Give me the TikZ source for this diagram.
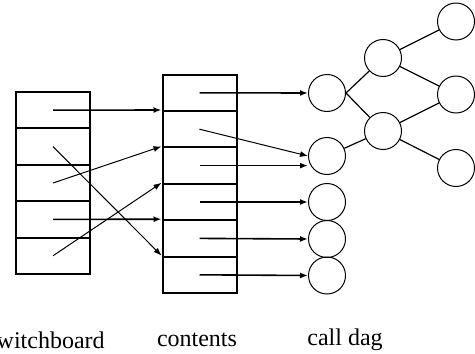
\documentclass[tikz,border=0pt]{standalone}
\usepackage{fontspec}
\setmainfont{Liberation Serif}
\usetikzlibrary{arrows.meta,positioning}

\begin{document}
\begin{tikzpicture}[
  x=0.5pt, y=-0.5pt,
  slot/.style={draw, line width=1pt, minimum width=37pt,
               minimum height=18.2pt, inner sep=0pt},
  call/.style={draw, circle, line width=0.5pt, minimum size=18.5pt,
               inner sep=0pt},
  ptr/.style={-{Latex[length=4pt,width=3pt]}, line width=0.8pt},
  xptr/.style={-{Latex[length=4pt,width=3pt]}, line width=0.5pt},
  link/.style={line width=0.6pt},
  lbl/.style={font=\fontsize{12}{14}\selectfont}
]
\clip (0,0) rectangle (475,353);
\useasboundingbox (0,0) rectangle (475,353);
% switchboard
\node[slot] (sw1) at (53,110.2) {};
\node[slot] (sw2) at (53,146.6) {};
\node[slot] (sw3) at (53,183.0) {};
\node[slot] (sw4) at (53,219.4) {};
\node[slot] (sw5) at (53,255.8) {};
% contents
\node[slot] (ct1) at (199.5,92.8) {};
\node[slot] (ct2) at (199.5,129.2) {};
\node[slot] (ct3) at (199.5,165.6) {};
\node[slot] (ct4) at (199.5,202.0) {};
\node[slot] (ct5) at (199.5,238.4) {};
\node[slot] (ct6) at (199.5,274.8) {};
% call dag
\node[call] (c1) at (327,93) {};
\node[call] (c2) at (327,156) {};
\node[call] (c3) at (327,202) {};
\node[call] (c4) at (327,239) {};
\node[call] (c5) at (327,275.5) {};
\node[call] (d1) at (383,58) {};
\node[call] (d2) at (383,131) {};
\node[call] (e1) at (456,21.5) {};
\node[call] (e2) at (456,94.5) {};
\node[call] (e3) at (456,168) {};
% switchboard -> contents
\draw[ptr] (sw1.center) -- (ct2.north west);
\draw[xptr] (sw2.center) -- (ct6.north west);
\draw[xptr] (sw3.center) -- (ct3.north west);
\draw[ptr] (sw4.center) -- (ct5.north west);
\draw[xptr] (sw5.center) -- (ct4.north west);
% contents -> calls
\draw[ptr] (ct1.center) -- (c1.west);
\draw[xptr] (ct2.center) -- (c2.west);
\draw[ptr] (ct3.center) -- (ct3.center -| c2.west);
\draw[ptr] (ct4.center) -- (c3.west);
\draw[ptr] (ct5.center) -- (c4.west);
\draw[ptr] (ct6.center) -- (c5.west);
% dag edges
\draw[link] (c1.east) -- (d1);
\draw[link] (c1.east) -- (d2);
\draw[link] (c2) -- (d2);
\draw[link] (d1) -- (e1);
\draw[link] (d1) -- (e2);
\draw[link] (d2) -- (e2);
\draw[link] (d2) -- (e3);
% captions
\node[lbl] (swlbl) at (46,340) {switchboard};
\node[lbl] (ctlbl) at (197,340) {contents};
\node[lbl] (daglbl) at (345,340) {call dag};
\end{tikzpicture}
\end{document}
